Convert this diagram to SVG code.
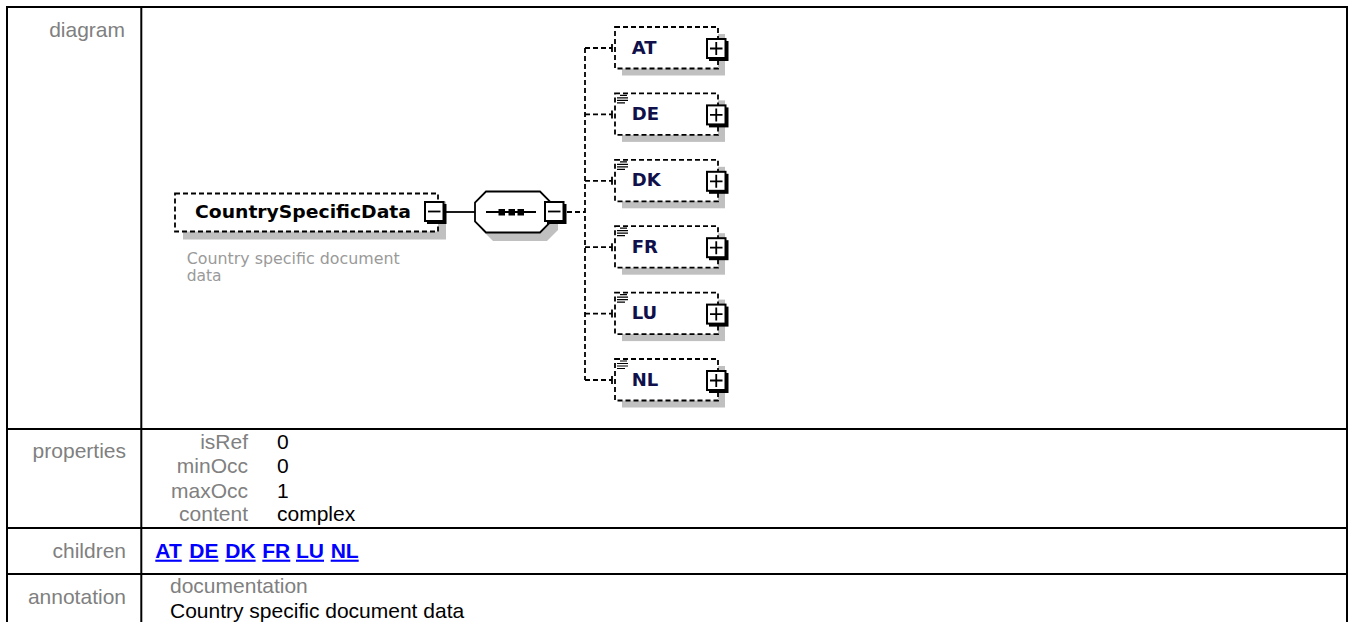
<svg xmlns="http://www.w3.org/2000/svg" xmlns:xlink="http://www.w3.org/1999/xlink" width="1348" height="622" viewBox="0 0 1348 622">
<style>
.grid{stroke:#000;stroke-width:2;fill:none}
.lbl{font-family:"Liberation Sans",Arial,sans-serif;font-size:21px;fill:#808080}
.val{font-family:"Liberation Sans",Arial,sans-serif;font-size:21px;fill:#000}
.link{font-family:"Liberation Sans",Arial,sans-serif;font-size:21px;font-weight:bold;fill:#0000ff;text-decoration:underline}
.box{fill:#fff;stroke:#000;stroke-width:1.8;stroke-dasharray:5 3}
.shadow{fill:#c0c0c0}
.name{font-family:"DejaVu Sans",Verdana,sans-serif;font-weight:bold;font-size:18.5px;fill:#000}
.cname{font-family:"DejaVu Sans",Verdana,sans-serif;font-weight:bold;font-size:18px;fill:#10104a}
.btn{fill:#fff;stroke:#000;stroke-width:2}
.btnsh{fill:#000}
.sym{stroke:#000;stroke-width:1.8;fill:none}
.dash{stroke:#000;stroke-width:1.8;stroke-dasharray:5 3;fill:none}
.solid{stroke:#000;stroke-width:1.8;fill:none}
.doc{stroke:#000;stroke-width:1.2}
.ann{font-family:"DejaVu Sans",Verdana,sans-serif;font-size:15.5px;fill:#9a9a9a}
</style>
<defs>
<g id="cbox">
<rect class="shadow" x="7" y="7" width="103" height="41.5"/>
<rect class="box" x="0" y="0" width="103" height="41.5"/>
<rect class="btnsh" x="94" y="14" width="19.5" height="20"/>
<rect class="btn" x="92" y="12" width="18.5" height="19"/>
<path class="sym" d="M95 21.5H107.5M101.25 15V28"/>
</g>
<g id="docicon">
<path class="doc" d="M5 2H12M2 4.5H13M2 7H13M2 9.5H10"/>
</g>
</defs>
<rect width="1348" height="622" fill="#fff"/>
<g id="table">
<rect class="grid" x="7" y="7" width="1340" height="640"/>
<line class="grid" x1="141.3" y1="7" x2="141.3" y2="640"/>
<line class="grid" x1="7" y1="429" x2="1347" y2="429"/>
<line class="grid" x1="7" y1="528" x2="1347" y2="528"/>
<line class="grid" x1="7" y1="574" x2="1347" y2="574"/>
<text class="lbl" x="125" y="36.7" text-anchor="end">diagram</text>
<text class="lbl" x="126" y="457.7" text-anchor="end">properties</text>
<text class="lbl" x="248" y="449.3" text-anchor="end">isRef</text>
<text class="lbl" x="248" y="473.3" text-anchor="end">minOcc</text>
<text class="lbl" x="248" y="497.5" text-anchor="end">maxOcc</text>
<text class="lbl" x="248" y="521.3" text-anchor="end">content</text>
<text class="val" x="277" y="449.3">0</text>
<text class="val" x="277" y="473.3">0</text>
<text class="val" x="277" y="497.5">1</text>
<text class="val" x="277" y="521.3">complex</text>
<text class="lbl" x="126" y="558.3" text-anchor="end">children</text>
<text class="link" x="155.3" y="557.7">AT</text>
<text class="link" x="189.3" y="557.7">DE</text>
<text class="link" x="225.3" y="557.7">DK</text>
<text class="link" x="262.3" y="557.7">FR</text>
<text class="link" x="296" y="557.7">LU</text>
<text class="link" x="330.7" y="557.7">NL</text>
<text class="lbl" x="126" y="604" text-anchor="end">annotation</text>
<text class="lbl" x="170" y="593.3">documentation</text>
<text class="val" x="170" y="617.7">Country specific document data</text>
</g>
<g id="connectors">
<line class="solid" x1="446" y1="212" x2="475" y2="212"/>
<line class="dash" x1="567" y1="212" x2="585" y2="212"/>
<line class="dash" x1="585" y1="48" x2="585" y2="380"/>
<path class="dash" d="M585 48H612M585 114.4H612M585 180.8H612M585 247.2H612M585 313.6H612M585 380H612"/>
<path class="solid" d="M612 44V52M612 110.4V118.4M612 176.8V184.8M612 243.2V251.2M612 309.6V317.6M612 376V384"/>
</g>
<g id="CountrySpecificData">
<rect class="shadow" x="183" y="201.5" width="263" height="38"/>
<rect class="box" x="175" y="193.5" width="263" height="38"/>
<text class="name" x="195" y="218.3" textLength="216" lengthAdjust="spacingAndGlyphs">CountrySpecificData</text>
<rect class="btnsh" x="427" y="204" width="19.5" height="20"/>
<rect class="btn" x="425" y="202" width="18.5" height="19"/>
<path class="sym" d="M428 211.5H440.5"/>
<text class="ann" x="186.7" y="264" textLength="213" lengthAdjust="spacingAndGlyphs">Country specific document</text>
<text class="ann" x="186.7" y="280.5">data</text>
</g>
<g id="sequence">
<polygon class="shadow" points="493,200 547,200 558,211 558,230 547,241 493,241 482,230 482,211"/>
<polygon fill="#fff" stroke="#000" stroke-width="1.8" points="486,191.5 540,191.5 551,202.5 551,221.5 540,232.5 486,232.5 475,221.5 475,202.5"/>
<line class="solid" x1="486" y1="212" x2="536" y2="212"/>
<rect x="498.5" y="209" width="6.5" height="6.5" fill="#000"/>
<rect x="508.5" y="209" width="6.5" height="6.5" fill="#000"/>
<rect x="517.5" y="209" width="6.5" height="6.5" fill="#000"/>
<rect class="btnsh" x="547" y="204" width="19.5" height="20"/>
<rect class="btn" x="545" y="202" width="18.5" height="19"/>
<path class="sym" d="M548 211.5H560.5"/>
</g>
<g id="AT" transform="translate(615,27)">
<use xlink:href="#cbox"/>
<text class="cname" x="16.7" y="26.6">AT</text>
</g>
<g id="DE" transform="translate(615,93.4)">
<use xlink:href="#cbox"/>
<use xlink:href="#docicon"/>
<text class="cname" x="16.7" y="26.6">DE</text>
</g>
<g id="DK" transform="translate(615,159.8)">
<use xlink:href="#cbox"/>
<use xlink:href="#docicon"/>
<text class="cname" x="16.7" y="26.6">DK</text>
</g>
<g id="FR" transform="translate(615,226.2)">
<use xlink:href="#cbox"/>
<use xlink:href="#docicon"/>
<text class="cname" x="16.7" y="26.6">FR</text>
</g>
<g id="LU" transform="translate(615,292.6)">
<use xlink:href="#cbox"/>
<use xlink:href="#docicon"/>
<text class="cname" x="16.7" y="26.6">LU</text>
</g>
<g id="NL" transform="translate(615,359)">
<use xlink:href="#cbox"/>
<use xlink:href="#docicon"/>
<text class="cname" x="16.7" y="26.6">NL</text>
</g>
</svg>
